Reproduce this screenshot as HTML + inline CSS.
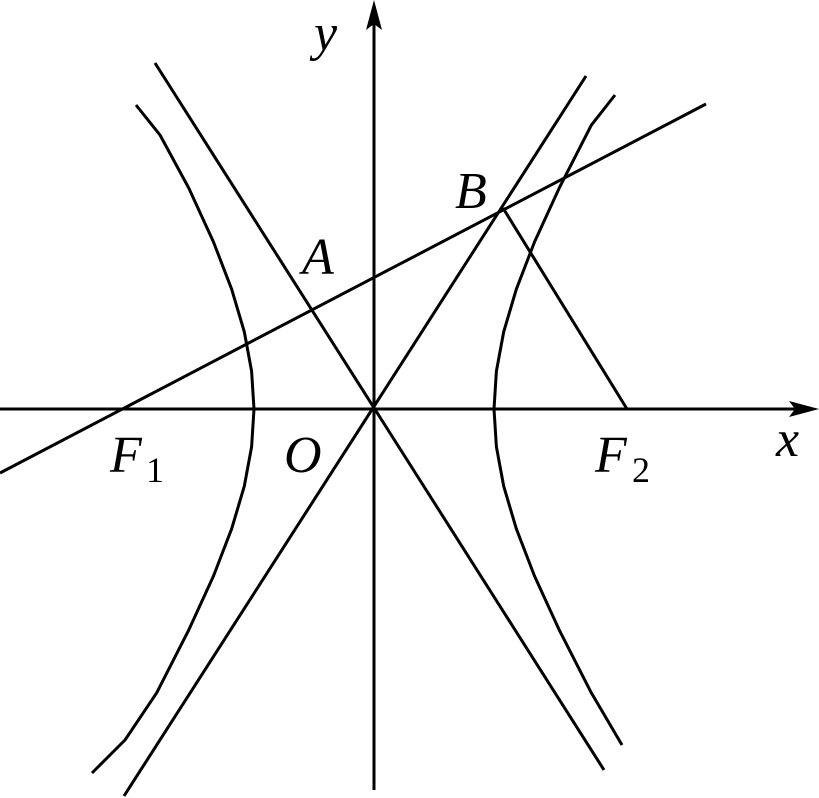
<!DOCTYPE html>
<html><head><meta charset="utf-8"><style>
html,body{margin:0;padding:0;background:#fff;}
svg{display:block}
text{font-family:"Liberation Serif",serif;font-style:italic;font-size:52px;fill:#000}
.s{font-style:normal;font-size:36px}
</style></head><body>
<svg width="819" height="798" viewBox="0 0 819 798" xmlns="http://www.w3.org/2000/svg">
<g stroke="#000" stroke-width="3" fill="none" stroke-linejoin="round">
<line x1="0" y1="409" x2="805" y2="409"/>
<line x1="374" y1="790" x2="374" y2="12"/>
<line x1="155" y1="63" x2="604" y2="770"/>
<line x1="124" y1="796" x2="586" y2="76"/>
<line x1="0" y1="473" x2="706" y2="104"/>
<line x1="503" y1="208" x2="627" y2="409"/>
<polyline points="622,745 591.3,692.8 559.2,629.9 534.5,576 516.3,528.7 503.7,486.2 496.4,446.8 494,409 496.4,371.2 503.7,331.8 516.3,289.3 534.5,242 559.2,188.1 591.3,125.2 615,95"/>
<polyline points="92,773 125,740 156.7,692.8 188.8,629.9 213.5,576 231.7,528.7 244.3,486.2 251.6,446.8 254,409 251.6,371.2 244.3,331.8 231.7,289.3 213.5,242 188.8,188.1 160,135 136,105"/>
</g>
<polygon points="374,0 366,30 374,24 382,30" fill="#000"/>
<polygon points="819,409 789,401 795,409 789,417" fill="#000"/>
<text x="314" y="50">y</text>
<text x="776" y="456">x</text>
<text x="455" y="208">B</text>
<text x="302" y="274">A</text>
<text x="284" y="472">O</text>
<text x="110" y="472">F</text><text class="s" x="146" y="482">1</text>
<text x="595" y="472">F</text><text class="s" x="632" y="482">2</text>
</svg>
</body></html>
